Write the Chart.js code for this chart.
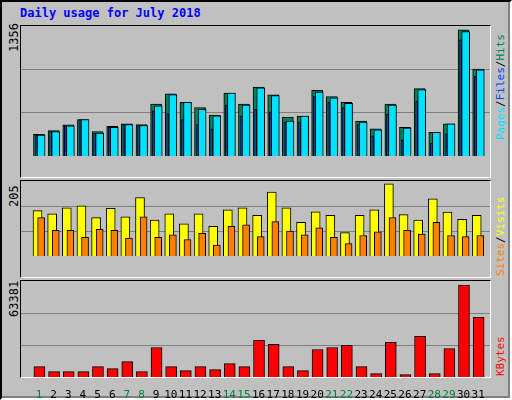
<!DOCTYPE html>
<html><head><meta charset="utf-8">
<script src="https://cdn.jsdelivr.net/npm/chart.js@4/dist/chart.umd.min.js"></script>
<style>
body{margin:0;width:512px;height:400px;overflow:hidden;background:#fff;}
#wrap{position:absolute;left:0;top:0;background:#C0C0C0;border-left:2px solid #000;border-top:2px solid #000;border-right:2px solid #fff;border-bottom:2px solid #fff;box-sizing:border-box;width:512px;height:400px;}
#wrap2{position:absolute;left:0px;top:0px;width:506px;height:394px;border-right:2px solid #808080;border-bottom:2px solid #808080;}
.t{position:absolute;font-family:"DejaVu Sans Mono",monospace;}
.frame{position:absolute;border-left:1px solid #000;border-top:1px solid #000;border-right:1px solid #fff;border-bottom:1px solid #fff;box-sizing:border-box;}
.rot{position:absolute;transform-origin:0 0;transform:rotate(-90deg);white-space:nowrap;font-family:"DejaVu Sans Mono",monospace;font-size:11px;}
canvas{position:absolute;}
</style></head><body>
<div id="wrap"><div id="wrap2"></div></div>
<div class="t" style="left:20px;top:6px;font-size:12px;font-weight:bold;color:#0000FF;">Daily usage for July 2018</div>
<div class="frame" style="left:20px;top:25px;width:471px;height:153px;"></div>
<div class="frame" style="left:20px;top:180px;width:471px;height:98px;"></div>
<div class="frame" style="left:20px;top:280px;width:471px;height:98px;"></div>
<div class="rot" style="left:7px;top:52px;color:#000;font-size:12px;">1356</div>
<div class="rot" style="left:7px;top:207px;color:#000;font-size:12px;">205</div>
<div class="rot" style="left:7px;top:317px;color:#000;font-size:12px;">63381</div>
<div class="rot" style="left:494px;top:140px;"><span style="color:#00E0FF">Pages</span><span style="color:#000">/</span><span style="color:#0040FF">Files</span><span style="color:#000">/</span><span style="color:#00805C">Hits</span></div>
<div class="rot" style="left:494px;top:276px;"><span style="color:#FF8000">Sites</span><span style="color:#000">/</span><span style="color:#FFFF00">Visits</span></div>
<div class="rot" style="left:494px;top:376px;"><span style="color:#FF0000">KBytes</span></div>
<canvas id="c1" style="left:21px;top:26px;" width="469" height="151"></canvas>
<canvas id="c2" style="left:21px;top:181px;" width="469" height="96"></canvas>
<canvas id="c3" style="left:21px;top:281px;" width="469" height="117"></canvas>
<script>
const days=[1,2,3,4,5,6,7,8,9,10,11,12,13,14,15,16,17,18,19,20,21,22,23,24,25,26,27,28,29,30,31];
const weekend=[1,7,8,14,15,21,22,28,29];
const hits=[226,265,324,381,256,309,336,327,541,648,559,506,426,657,541,720,639,407,416,684,621,559,363,283,541,300,702,247,336,1317,907];
const files=[217,256,315,381,238,300,327,318,523,640,559,488,419,657,532,711,630,363,416,666,606,550,354,274,532,291,693,247,336,1299,898];
const pages=[217,256,315,381,238,300,327,318,470,443,381,327,283,532,416,488,461,354,354,621,559,506,327,211,434,166,571,131,232,1211,830];
const visits=[124,115,132,137,105,130,107,160,98,115,88,115,81,126,132,111,175,132,92,121,111,64,111,126,197,113,98,156,120,100,111];
const sites=[105,70,70,51,73,70,49,107,51,58,45,62,30,81,85,53,94,68,58,77,51,34,56,66,105,70,60,92,56,53,56];
const kbytes=[6870,3546,3546,3546,6870,5540,10194,3546,19501,6870,4210,6870,4875,8864,6870,24154,21495,6870,4210,18171,19501,20830,6870,2216,22824,1551,26813,2216,18836,60718,39445];
const maxTop=1356,maxMid=205,maxBot=63381;

Chart.defaults.animation=false;
Chart.defaults.responsive=false;
function pts(arr,off){return arr.map((v,i)=>({x:days[i]+off,y:v}));}
function ds(arr,off,color,w,ord){return {data:pts(arr,off),backgroundColor:color,borderColor:'#000',borderWidth:1,barThickness:w,grouped:false,order:ord,borderSkipped:'bottom'};}
function opts(max,showX){
  return {responsive:false,animation:false,layout:{padding:0},
    plugins:{legend:{display:false},tooltip:{enabled:false}},
    scales:{
      x:{type:'linear',min:0.288,max:31.29,display:showX,
        grid:{display:false},border:{display:false},
        afterBuildTicks:s=>{s.ticks=days.map(d=>({value:d}));},
        afterFit:s=>{s.height=21;},
        ticks:{autoSkip:false,maxRotation:0,padding:4,font:{family:'DejaVu Sans Mono',size:11},
          color:c=>weekend.includes(c.tick.value)?'#008040':'#000',callback:v=>String(v)}},
      y:{min:0,max:max,display:true,
        afterBuildTicks:s=>{s.ticks=[{value:max/3},{value:2*max/3}];},
        afterFit:s=>{s.width=0;},
        grid:{color:'#808080',lineWidth:1,drawTicks:false},border:{display:false},
        ticks:{display:false}}}};
}
new Chart(document.getElementById('c1'),{type:'bar',data:{datasets:[
  ds(hits,0,'#00805C',11,3),ds(files,0.145,'#00E0FF',8,2),ds(pages,-0.2,'#0040FF',2,1)]},options:opts(maxTop,false)});
new Chart(document.getElementById('c2'),{type:'bar',data:{datasets:[
  ds(visits,-0.1,'#FFFF00',9,2),ds(sites,0.145,'#FF8000',7,1)]},options:opts(maxMid,false)});
new Chart(document.getElementById('c3'),{type:'bar',data:{datasets:[
  ds(kbytes,0.03,'#FF0000',11,1)]},options:opts(maxBot,true)});
</script>
</body></html>
